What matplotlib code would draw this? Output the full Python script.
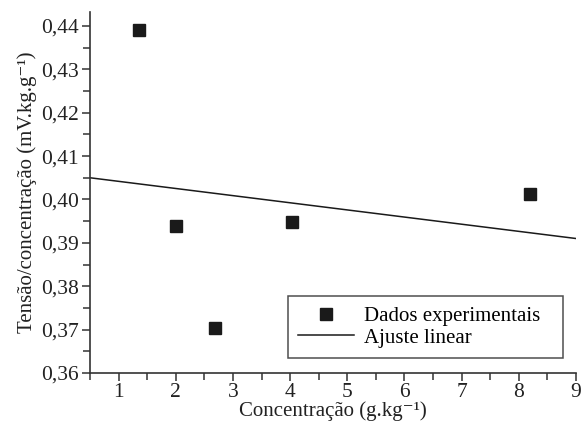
import matplotlib
matplotlib.use("Agg")
import matplotlib.pyplot as plt
from matplotlib.ticker import MultipleLocator, FuncFormatter
import numpy as np

plt.rcParams['font.family'] = ['Liberation Serif', 'DejaVu Serif']

conc = [1.35, 2.0, 2.68, 4.04, 8.19]
tensao = [0.439, 0.3939, 0.3703, 0.3947, 0.4012]
fit_x = [0.5, 9.0]
fit_y = [0.405, 0.391]

fig = plt.figure(figsize=(5.82, 4.29), dpi=100)
ax = fig.add_axes([0.1546, 0.1305, 0.8351, 0.8415])

ax.plot(conc, tensao, 's', color='#1a1a1a', markersize=8.4, label='Dados experimentais', linestyle='none')
ax.plot(fit_x, fit_y, '-', color='#1a1a1a', linewidth=1.1, label='Ajuste linear')

ax.set_xlim(0.5, 9.0)
ax.set_ylim(0.36, 0.4432)
ax.xaxis.set_major_locator(MultipleLocator(1))
ax.xaxis.set_minor_locator(MultipleLocator(0.5))
ax.yaxis.set_major_locator(MultipleLocator(0.01))
ax.yaxis.set_minor_locator(MultipleLocator(0.005))
ax.yaxis.set_major_formatter(FuncFormatter(lambda v, p: f"{v:.2f}".replace('.', ',')))
ax.xaxis.set_major_formatter(FuncFormatter(lambda v, p: f"{v:.0f}"))

for s in ['top', 'right']:
    ax.spines[s].set_visible(False)
for s in ['left', 'bottom']:
    ax.spines[s].set_linewidth(1.2)
    ax.spines[s].set_color('#333333')

ax.tick_params(which='major', direction='out', length=6, width=1.1, labelsize=15.5, colors='#333333', labelcolor='#222222')
ax.tick_params(which='minor', direction='out', length=5, width=1.1, colors='#333333')
ax.tick_params(axis='x', pad=1)
ax.tick_params(axis='y', pad=2)

ax.set_xlabel('Concentração (g.kg\u207b\u00b9)', fontsize=15, color='#222222', labelpad=0)
ax.set_ylabel('Tensão/concentração (mV.kg.g\u207b\u00b9)', fontsize=15, color='#222222', labelpad=3)

leg = ax.legend(loc='lower left', bbox_to_anchor=(0.407, 0.0416, 0.566, 0.183), mode='expand',
                fontsize=15, frameon=True, fancybox=False, handlelength=2.7,
                handletextpad=0.45, borderpad=0.5, labelspacing=0.1, borderaxespad=0)
leg.get_frame().set_edgecolor('#222222')
leg.get_frame().set_linewidth(1.1)

fig.savefig('out.png', dpi=100)
